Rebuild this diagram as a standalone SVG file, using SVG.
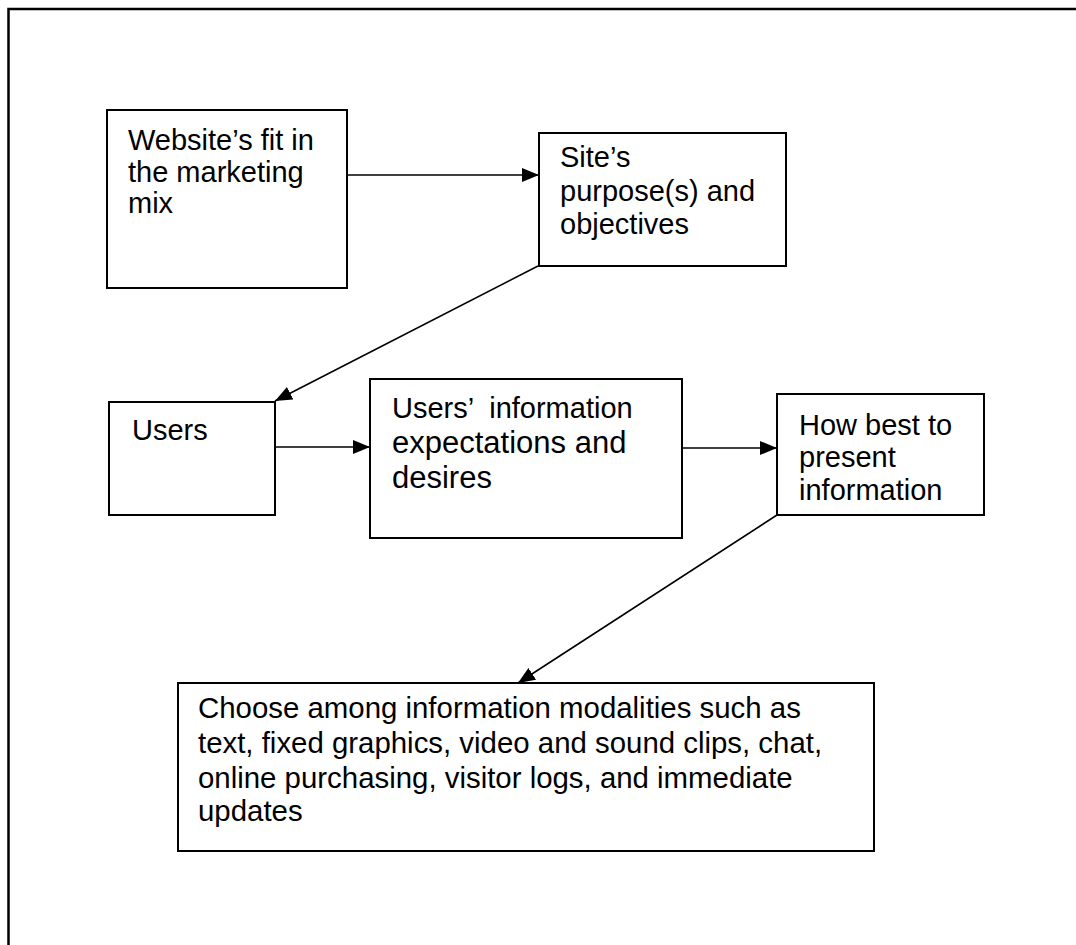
<svg xmlns="http://www.w3.org/2000/svg" width="1076" height="945" viewBox="0 0 1076 945">
  <style>
    .box { fill: #ffffff; stroke: #000000; stroke-width: 2; }
    .lbl { font-family: "Liberation Sans", Arial, sans-serif; font-size: 29px; fill: #000000; }
    .big { font-size: 31px; }
    .wide { font-size: 29.4px; }
    .link { stroke: #000000; stroke-width: 1.6; fill: none; marker-end: url(#head); }
  </style>
  <defs>
    <marker id="head" markerUnits="userSpaceOnUse" markerWidth="18" markerHeight="14" refX="17" refY="7" orient="auto">
      <path d="M0,0 L17,7 L0,14 z" fill="#000000"/>
    </marker>
  </defs>

  <rect width="1076" height="945" fill="#ffffff"/>
  <!-- page frame, open to the right and bottom -->
  <rect x="8.5" y="9" width="1100" height="1000" fill="none" stroke="#000000" stroke-width="2.5"/>

  <g id="connectors">
    <line class="link" x1="347" y1="175" x2="539" y2="175"/>
    <line class="link" x1="538" y1="266" x2="275" y2="401"/>
    <line class="link" x1="275" y1="447" x2="370" y2="447"/>
    <line class="link" x1="682" y1="448" x2="777" y2="448"/>
    <line class="link" x1="777" y1="515" x2="518" y2="683"/>
  </g>

  <g id="node-website-fit">
    <rect class="box" x="107" y="110" width="240" height="178"/>
    <text class="lbl" x="128" y="150">Website’s fit in</text>
    <text class="lbl" x="128" y="182">the marketing</text>
    <text class="lbl" x="128" y="213">mix</text>
  </g>

  <g id="node-site-purpose">
    <rect class="box" x="539" y="133" width="247" height="133"/>
    <text class="lbl" x="560" y="167">Site’s</text>
    <text class="lbl" x="560" y="201">purpose(s) and</text>
    <text class="lbl" x="560" y="234">objectives</text>
  </g>

  <g id="node-users">
    <rect class="box" x="109" y="402" width="166" height="113"/>
    <text class="lbl" x="132" y="440">Users</text>
  </g>

  <g id="node-user-expectations">
    <rect class="box" x="370" y="379" width="312" height="159"/>
    <text class="lbl" x="392" y="418" xml:space="preserve">Users’  information</text>
    <text class="lbl big" x="392" y="453">expectations and</text>
    <text class="lbl big" x="392" y="488">desires</text>
  </g>

  <g id="node-presentation">
    <rect class="box" x="777" y="394" width="207" height="121"/>
    <text class="lbl" x="799" y="435">How best to</text>
    <text class="lbl" x="799" y="467">present</text>
    <text class="lbl" x="799" y="500">information</text>
  </g>

  <g id="node-modalities">
    <rect class="box" x="178" y="683" width="696" height="168"/>
    <text class="lbl wide" x="198" y="718">Choose among information modalities such as</text>
    <text class="lbl wide" x="198" y="753">text, fixed graphics, video and sound clips, chat,</text>
    <text class="lbl wide" x="198" y="788">online purchasing, visitor logs, and immediate</text>
    <text class="lbl wide" x="198" y="821">updates</text>
  </g>
</svg>
